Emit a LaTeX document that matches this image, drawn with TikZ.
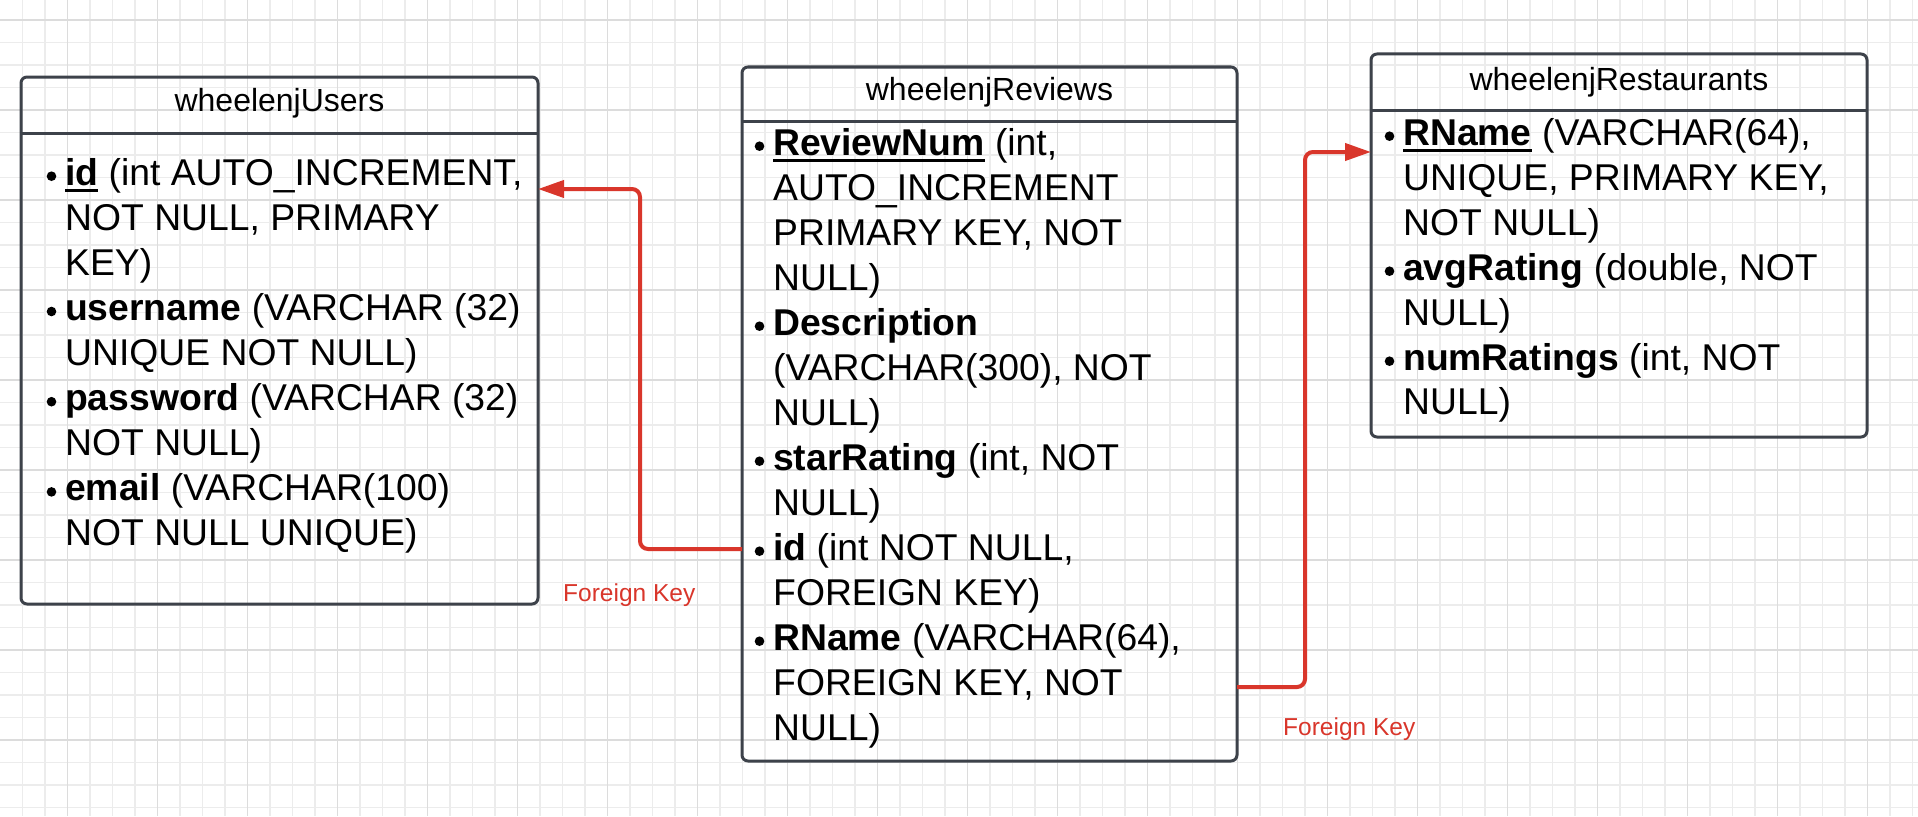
\documentclass[tikz,border=0pt]{standalone}
\usepackage{fontspec}
\setmainfont{Liberation Sans}
\usetikzlibrary{arrows.meta}
\definecolor{gridminor}{RGB}{236,236,236}
\definecolor{gridmajor}{RGB}{220,220,220}
\definecolor{boxline}{RGB}{61,66,74}
\definecolor{fkred}{RGB}{217,54,43}
\newcommand\ulw[1]{\setbox0\hbox{#1}\rlap{\rule[-7pt]{\wd0}{2.8pt}}\box0}
\newcommand\itm[4]{\fill (#1-13.5,#2-8.8) circle (4.8pt); \node[body] (#3) at (#1,#2) {#4};}
\newcommand\cnt[4]{\node[body] (#3) at (#1,#2) {#4};}
\begin{document}
\begin{tikzpicture}[x=1pt,y=-1pt,
  table/.style={draw=boxline, line width=3pt, rounded corners=6pt, inner sep=0pt, outer sep=0pt, anchor=north west},
  divider/.style={draw=boxline, line width=3pt},
  title/.style={font=\fontsize{32}{38}\selectfont, anchor=base, inner sep=0pt},
  body/.style={font=\fontsize{37.3}{45}\selectfont, anchor=base west, inner sep=0pt},
  fk/.style={draw=fkred, line width=4pt, rounded corners=8pt, -{Triangle[length=26pt,width=17pt]}},
  fklabel/.style={text=fkred, font=\fontsize{24.5}{29}\selectfont, anchor=base west, inner sep=0pt}]

\useasboundingbox (0,0) rectangle (1918,816);
\fill[white] (0,0) rectangle (1918,816);
% grid
\foreach \k in {1,...,85} {\draw[gridminor, line width=1.4pt] (22.5*\k-0.2,0) -- (22.5*\k-0.2,816);}
\foreach \k in {0,...,35} {\draw[gridminor, line width=1.4pt] (0,20+22.5*\k) -- (1918,20+22.5*\k);}
\foreach \k in {0,...,20} {\draw[gridmajor, line width=1.4pt] (67.3+90*\k,0) -- (67.3+90*\k,816);}
\foreach \k in {0,...,8} {\draw[gridmajor, line width=1.4pt] (0,20+90*\k) -- (1918,20+90*\k);}

% tables
\node[table, minimum width=517pt, minimum height=527pt] (users) at (21,77) {};
\node[table, minimum width=495pt, minimum height=694pt] (rev) at (742,67) {};
\node[table, minimum width=496pt, minimum height=383pt] (rest) at (1371,54) {};
\draw[divider] (users.west |- 0,133) -- (users.east |- 0,133);
\draw[divider] (rev.west |- 0,121) -- (rev.east |- 0,121);
\draw[divider] (rest.west |- 0,110) -- (rest.east |- 0,110);

\node[title] (tu) at (users.north |- 0,111) {wheelenjUsers};
\node[title] (tv) at (rev.north |- 0,100) {wheelenjReviews};
\node[title] (ts) at (rest.north |- 0,90) {wheelenjRestaurants};

% users body
\itm{65}{185}{u1}{\textbf{\ulw{id}} (int AUTO\_INCREMENT,}
\cnt{65}{230.1}{u2}{NOT NULL, PRIMARY}
\cnt{65}{275.2}{u3}{KEY)}
\itm{65}{320.3}{u4}{\textbf{username} (VARCHAR (32)}
\cnt{65}{365.4}{u5}{UNIQUE NOT NULL)}
\itm{65}{410.5}{u6}{\textbf{password} (VARCHAR (32)}
\cnt{65}{455.6}{u7}{NOT NULL)}
\itm{65}{500.7}{u8}{\textbf{email} (VARCHAR(100)}
\cnt{65}{545.8}{u9}{NOT NULL UNIQUE)}

% reviews body
\itm{773}{155}{r1}{\textbf{\ulw{ReviewNum}} (int,}
\cnt{773}{200}{r2}{AUTO\_INCREMENT}
\cnt{773}{245}{r3}{PRIMARY KEY, NOT}
\cnt{773}{290}{r4}{NULL)}
\itm{773}{335}{r5}{\textbf{Description}}
\cnt{773}{380}{r6}{(VARCHAR(300), NOT}
\cnt{773}{425}{r7}{NULL)}
\itm{773}{470}{r8}{\textbf{starRating} (int, NOT}
\cnt{773}{515}{r9}{NULL)}
\itm{773}{560}{r10}{\textbf{id} (int NOT NULL,}
\cnt{773}{605}{r11}{FOREIGN KEY)}
\itm{773}{650}{r12}{\textbf{RName} (VARCHAR(64),}
\cnt{773}{695}{r13}{FOREIGN KEY, NOT}
\cnt{773}{740}{r14}{NULL)}

% restaurants body
\itm{1403}{145}{s1}{\textbf{\ulw{RName}} (VARCHAR(64),}
\cnt{1403}{190}{s2}{UNIQUE, PRIMARY KEY,}
\cnt{1403}{235}{s3}{NOT NULL)}
\itm{1403}{280}{s4}{\textbf{avgRating} (double, NOT}
\cnt{1403}{325}{s5}{NULL)}
\itm{1403}{370}{s6}{\textbf{numRatings} (int, NOT}
\cnt{1403}{414}{s7}{NULL)}

% foreign key connectors
\draw[fk] (rev.west |- 0,549) -- (640,549) -- (640,189) -- (users.east |- 0,189);
\draw[fk] (rev.east |- 0,687) -- (1305,687) -- (1305,152) -- (rest.west |- 0,152);
\node[fklabel] (fk1) at (563,601) {Foreign Key};
\node[fklabel] (fk2) at (1283,735) {Foreign Key};
\end{tikzpicture}
\end{document}
